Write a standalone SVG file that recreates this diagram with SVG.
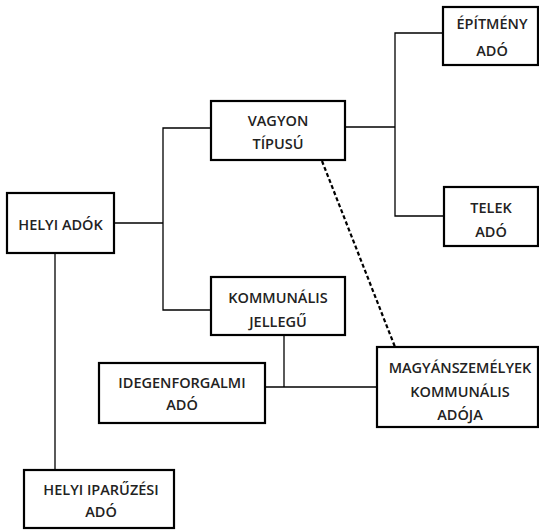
<svg xmlns="http://www.w3.org/2000/svg" width="539" height="531" viewBox="0 0 539 531">
<style>
.box{fill:#fff;stroke:#000;stroke-width:2.2}
.ln{fill:none;stroke:#000;stroke-width:1.3}
.dash{fill:none;stroke:#000;stroke-width:2.2;stroke-dasharray:4,2.5}
text{font-family:"Open Sans","Liberation Sans",sans-serif;font-weight:600;font-size:14.5px;fill:#222;text-anchor:middle}
</style>
<rect width="539" height="531" fill="#fff"/>
<g id="connectors">
<polyline class="ln" points="114,223 163,223"/>
<polyline class="ln" points="211,128 163,128 163,310 211,310"/>
<polyline class="ln" points="55,253 55,470"/>
<polyline class="ln" points="345,127 395,127"/>
<polyline class="ln" points="443,33 395,33 395,216 444,216"/>
<polyline class="ln" points="284,335 284,387"/>
<polyline class="ln" points="265,387 377,387"/>
<line class="dash" x1="322" y1="161" x2="395" y2="347"/>
</g>
<g id="helyi-adok"><rect class="box" x="7" y="193" width="107" height="60"/><text x="60.5" y="230">HELYI ADÓK</text></g>
<g id="vagyon"><rect class="box" x="211" y="101" width="134" height="59"/><text x="278" y="126">VAGYON</text><text x="278" y="149">TÍPUSÚ</text></g>
<g id="epitmeny"><rect class="box" x="443" y="7" width="95" height="58"/><text x="492" y="29">ÉPÍTMÉNY</text><text x="492" y="56">ADÓ</text></g>
<g id="telek"><rect class="box" x="444" y="187" width="94" height="59"/><text x="491" y="213">TELEK</text><text x="491" y="237">ADÓ</text></g>
<g id="kommunalis"><rect class="box" x="211" y="277" width="134" height="58"/><text x="278" y="303">KOMMUNÁLIS</text><text x="278" y="327">JELLEGŰ</text></g>
<g id="idegenforgalmi"><rect class="box" x="99" y="363" width="166" height="60"/><text x="182" y="388">IDEGENFORGALMI</text><text x="182" y="410">ADÓ</text></g>
<g id="magyanszemelyek"><rect class="box" x="377" y="347" width="161" height="80"/><text x="460" y="373">MAGYÁNSZEMÉLYEK</text><text x="460" y="397">KOMMUNÁLIS</text><text x="460" y="420">ADÓJA</text></g>
<g id="helyi-iparuzesi"><rect class="box" x="24" y="470" width="150" height="58"/><text x="101" y="495">HELYI IPARŰZÉSI</text><text x="101" y="517">ADÓ</text></g>
</svg>
